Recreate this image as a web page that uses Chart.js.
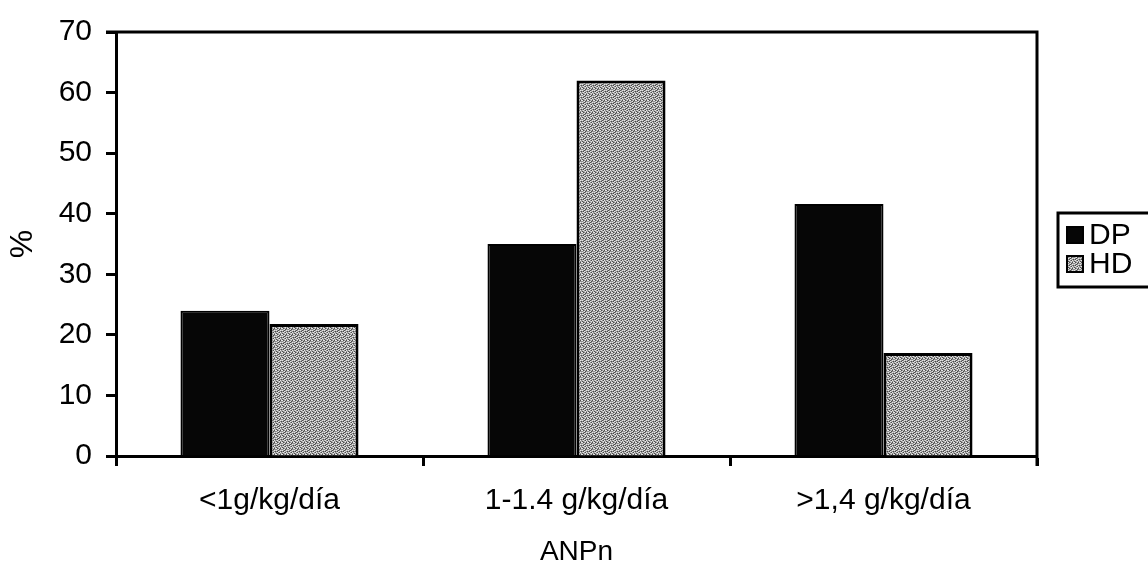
<!DOCTYPE html>
<html>
<head>
<meta charset="utf-8">
<script src="https://cdn.jsdelivr.net/npm/chart.js@4.4.1/dist/chart.umd.min.js"></script>
<style>
  html, body { margin: 0; padding: 0; background: #fff; }
  #wrap { width: 1148px; height: 566px; position: relative; }
</style>
</head>
<body>
<div id="wrap"><canvas id="anpnChart"></canvas></div>
<script>
// --- data ---
const categories = ['<1g/kg/día', '1-1.4 g/kg/día', '>1,4 g/kg/día'];
const dpValues = [24, 35, 41.6];
const hdValues = [21.8, 62, 17];
const seriesNames = ['DP', 'HD'];

const FONT = '"Liberation Sans", Arial, sans-serif';

// grey stipple like the scanned HD bars (fixed pattern, not data)
function makeStipple() {
    const rows = [
        'wgdgwl',
        'gdwlgd',
        'lwgdwg',
        'dglwgl',
        'wdgldw',
        'glwdgg'
    ];
    const colors = { w: '#e6e6e6', l: '#bdbdbd', g: '#8e8e8e', d: '#4a4a4a' };
    const c = document.createElement('canvas');
    c.width = 6; c.height = 6;
    const g = c.getContext('2d');
    rows.forEach((row, y) => {
        [...row].forEach((ch, x) => {
            g.fillStyle = colors[ch];
            g.fillRect(x, y, 1, 1);
        });
    });
    return g.createPattern(c, 'repeat');
}

// frame on top/right + legend box on the right
const framePlugin = {
    id: 'frameAndLegend',
    afterDraw(chart) {
        const { ctx, chartArea: a } = chart;
        ctx.save();
        ctx.strokeStyle = '#000';
        ctx.lineWidth = 3;
        ctx.beginPath();
        ctx.moveTo(a.left - 10, a.top);
        ctx.lineTo(a.right, a.top);
        ctx.lineTo(a.right, a.bottom + 10);
        ctx.stroke();

        // legend
        const lx = 1058, ly = 213, lh = 74;
        ctx.lineWidth = 3;
        ctx.strokeRect(lx, ly, 120, lh);
        const fills = [chart.data.datasets[0].backgroundColor, chart.data.datasets[1].backgroundColor];
        seriesNames.forEach((name, i) => {
            const cy = ly + 22 + i * 29;
            ctx.fillStyle = fills[i];
            ctx.fillRect(lx + 9, cy - 8, 16, 16);
            ctx.lineWidth = 2;
            ctx.strokeRect(lx + 9, cy - 8, 16, 16);
            ctx.fillStyle = '#000';
            ctx.font = '30px ' + FONT;
            ctx.textBaseline = 'middle';
            ctx.fillText(name, lx + 31, cy + 1);
        });
        ctx.restore();
    }
};

const ctx = document.getElementById('anpnChart').getContext('2d');
new Chart(ctx, {
    type: 'bar',
    data: {
        labels: categories,
        datasets: [
            {
                label: seriesNames[0],
                data: dpValues,
                backgroundColor: '#060606',
                borderColor: '#000',
                borderWidth: 2
            },
            {
                label: seriesNames[1],
                data: hdValues,
                backgroundColor: makeStipple(),
                borderColor: '#000',
                borderWidth: 3
            }
        ]
    },
    options: {
        responsive: true,
        maintainAspectRatio: false,
        animation: false,
        layout: { padding: { top: 29, right: 111, bottom: 0, left: 0 } },
        datasets: {
            bar: { categoryPercentage: 0.58, barPercentage: 1.0 }
        },
        plugins: {
            legend: { display: false },
            tooltip: { enabled: false }
        },
        scales: {
            x: {
                grid: {
                    display: true,
                    drawOnChartArea: false,
                    offset: true,
                    tickLength: 10,
                    tickWidth: 3,
                    tickColor: '#000'
                },
                border: { display: true, color: '#000', width: 3 },
                ticks: {
                    color: '#000',
                    font: { family: FONT, size: 30 },
                    padding: 17,
                    maxRotation: 0
                },
                title: {
                    display: true,
                    text: 'ANPn',
                    color: '#000',
                    font: { family: FONT, size: 28, lineHeight: 1.0 },
                    padding: { top: 0, bottom: 0 }
                },
                afterFit(scale) { scale.height = 110; }
            },
            y: {
                min: 0,
                max: 70,
                ticks: {
                    stepSize: 10,
                    color: '#000',
                    font: { family: FONT, size: 30 },
                    padding: 14
                },
                grid: {
                    display: true,
                    drawOnChartArea: false,
                    tickLength: 10,
                    tickWidth: 3,
                    tickColor: '#000'
                },
                border: { display: true, color: '#000', width: 3 },
                title: {
                    display: true,
                    text: '%',
                    color: '#000',
                    font: { family: FONT, size: 32 },
                    padding: { top: 4, bottom: 0 }
                },
                afterFit(scale) { scale.width = 116; }
            }
        }
    },
    plugins: [framePlugin]
});
</script>
</body>
</html>
